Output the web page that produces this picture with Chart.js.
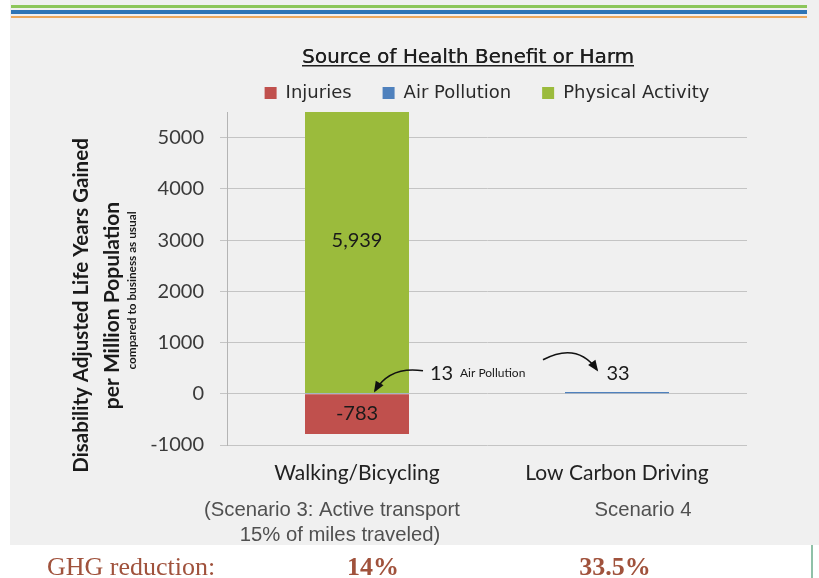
<!DOCTYPE html>
<html><head><meta charset="utf-8">
<script src="https://cdn.jsdelivr.net/npm/chart.js@4.4.1/dist/chart.umd.min.js"></script>
<style>
html,body{margin:0;padding:0;background:#fff;width:819px;height:578px;overflow:hidden;position:relative;}
#bg{position:absolute;left:10px;top:0;width:809px;height:545px;background:#f0f0f0;}
.stripe{position:absolute;left:11px;width:796px;}
#wrap{position:absolute;left:0;top:0;width:819px;height:545px;}
#ghg{position:absolute;top:0;left:0;width:819px;height:578px;font-family:"Liberation Serif","DejaVu Serif",serif;font-size:26px;color:#a0523c;pointer-events:none;}
#ghg span{position:absolute;top:554px;line-height:26px;white-space:nowrap;}
#vline{position:absolute;left:811px;top:545px;width:2px;height:33px;background:#8fc1a8;}
</style></head>
<body>
<div id="bg"></div>
<div class="stripe" style="top:5px;height:3px;background:#8cc65a"></div>
<div class="stripe" style="top:10px;height:4px;background:#2e75b6"></div>
<div class="stripe" style="top:16px;height:2px;background:#eba75c"></div>
<div id="wrap"><canvas id="c" width="819" height="545"></canvas></div>
<div id="ghg"></div>
<div id="vline"></div>
<script>
// ---- data ----
const categories = ['Walking/Bicycling', 'Low Carbon Driving'];
const subLabels = [['(Scenario 3: Active transport', '15% of miles traveled)'], ['Scenario 4']];
const injuries = [-783, 0];
const airPollution = [13, 33];
const physicalActivity = [5939, 0];
const yTicks = [-1000, 0, 1000, 2000, 3000, 4000, 5000];
const yMin = -1000, yMax = 5500;
const barLabels = ['5,939', '-783'];
const airLabels = ['13', '33'];
const airNote = 'Air Pollution';
const chartTitle = 'Source of Health Benefit or Harm';
const yTitleLines = ['Disability Adjusted Life Years Gained', 'per Million Population', 'compared to business as usual'];
const ghgTitle = 'GHG reduction:';
const ghgValues = ['14%', '33.5%'];

// ---- GHG row ----
const ghg = document.getElementById('ghg');
const t = document.createElement('span'); t.textContent = ghgTitle; t.style.left = '47px'; ghg.appendChild(t);
const ghgCenters = [373, 615];
ghgValues.forEach((v, i) => {
  const s = document.createElement('span'); s.textContent = v; s.style.fontWeight = 'bold';
  s.style.left = ghgCenters[i] + 'px'; s.style.transform = 'translateX(-50%)'; ghg.appendChild(s);
});

function arrow(ctx, x0, y0, cx, cy, x1, y1) {
  ctx.save();
  ctx.strokeStyle = '#111'; ctx.fillStyle = '#111'; ctx.lineWidth = 1.6;
  ctx.beginPath(); ctx.moveTo(x0, y0); ctx.quadraticCurveTo(cx, cy, x1, y1); ctx.stroke();
  const a = Math.atan2(y1 - cy, x1 - cx);
  const L = 9, W = 4.5;
  ctx.beginPath();
  ctx.moveTo(x1 + Math.cos(a) * 2, y1 + Math.sin(a) * 2);
  ctx.lineTo(x1 - Math.cos(a) * L + Math.sin(a) * W, y1 - Math.sin(a) * L - Math.cos(a) * W);
  ctx.lineTo(x1 - Math.cos(a) * L - Math.sin(a) * W, y1 - Math.sin(a) * L + Math.cos(a) * W);
  ctx.closePath(); ctx.fill();
  ctx.restore();
}

const extras = {
  id: 'extras',
  afterDraw(chart) {
    const ctx = chart.ctx, xs = chart.scales.x, ys = chart.scales.y;
    ctx.save();
    // title + underline
    ctx.font = '20px "DejaVu Sans"'; ctx.fillStyle = '#1e1e1e';
    ctx.textAlign = 'center'; ctx.textBaseline = 'alphabetic';
    const tx = 468, ty = 63;
    ctx.fillText(chartTitle, tx, ty);
    ctx.fillText(chartTitle, tx + 0.3, ty);
    const tw = ctx.measureText(chartTitle).width;
    ctx.fillRect(tx - tw / 2, ty + 2, tw, 1.5);
    // y axis title
    const midY = (ys.getPixelForValue(yMin) + ys.top) / 2 + 27;
    const fonts = ['bold 20.5px Lato', 'bold 21px Lato', 'bold 11.8px Lato'];
    const xsT = [81, 112, 132];
    const dy = [0, 0, -15];
    yTitleLines.forEach((line, i) => {
      ctx.save(); ctx.translate(xsT[i], midY + dy[i]); ctx.rotate(-Math.PI / 2);
      ctx.font = fonts[i]; ctx.fillStyle = '#1a1a1a'; ctx.textAlign = 'center'; ctx.textBaseline = 'middle';
      ctx.fillText(line, 0, 0); ctx.restore();
    });
    // bar value labels
    const x0 = xs.getPixelForValue(0), x1 = xs.getPixelForValue(1);
    const zero = ys.getPixelForValue(0);
    ctx.font = '20px Lato'; ctx.fillStyle = '#1a1a1a'; ctx.textAlign = 'center'; ctx.textBaseline = 'middle';
    ctx.fillText(barLabels[0], x0, ys.getPixelForValue(airPollution[0] + physicalActivity[0] / 2));
    ctx.fillText(barLabels[1], x0, ys.getPixelForValue(injuries[0] / 2));
    // air pollution annotations
    ctx.textAlign = 'left';
    ctx.fillText(airLabels[0], x0 + 73, zero - 20);
    ctx.font = '12px Lato';
    ctx.fillText(airNote, x0 + 103, zero - 21);
    ctx.font = '20px Lato'; ctx.textAlign = 'center';
    ctx.fillText(airLabels[1], x1 + 1, zero - 20);
    arrow(ctx, x0 + 66, zero - 23, x0 + 33, zero - 28, x0 + 18, zero - 3);
    arrow(ctx, x1 - 74, zero - 34, x1 - 40, zero - 52, x1 - 20, zero - 24);
    // sub labels
    ctx.font = '20.3px "Liberation Sans"'; ctx.fillStyle = '#505050'; ctx.textAlign = 'center';
    const offs = [[-25, -17], [26]];
    subLabels.forEach((lines, i) => {
      const cx = xs.getPixelForValue(i);
      lines.forEach((ln, j) => ctx.fillText(ln, cx + offs[i][j], 510 + j * 25));
    });
    ctx.restore();
  }
};

new Chart(document.getElementById('c'), {
  type: 'bar',
  data: {
    labels: categories,
    datasets: [
      { label: 'Injuries', data: injuries, backgroundColor: '#c0504d' },
      { label: 'Air Pollution', data: airPollution, backgroundColor: '#4f81bd' },
      { label: 'Physical Activity', data: physicalActivity, backgroundColor: '#9bbb3c' }
    ]
  },
  options: {
    responsive: false, animation: false,
    layout: { padding: { left: 127, right: 72, top: 53, bottom: 55 } },
    datasets: { bar: { categoryPercentage: 1, barPercentage: 0.4 } },
    plugins: {
      title: { display: false },
      tooltip: { enabled: false },
      legend: {
        display: true, position: 'top', fullSize: false,
        labels: { font: { family: 'DejaVu Sans', size: 18 }, color: '#2a2a2a', boxWidth: 12, boxHeight: 12, padding: 31 }
      }
    },
    scales: {
      x: {
        stacked: true,
        grid: { display: false, drawTicks: false },
        border: { display: false },
        ticks: { font: { family: 'Lato', size: 21 }, color: '#222', padding: 16 },
        afterFit(s) { s.height = 45; }
      },
      y: {
        stacked: true, min: yMin, max: yMax,
        afterBuildTicks(s) { s.ticks = yTicks.map(v => ({ value: v })); },
        grid: { color: '#c4c4c4', lineWidth: 1, tickLength: 7 },
        border: { color: '#b4b4b4' },
        ticks: { font: { family: 'Lato', size: 20 }, color: '#3a3a3a', padding: 16, callback: v => String(v) },
        afterFit(s) { s.width = 100; }
      }
    }
  },
  plugins: [extras]
});
</script>
</body></html>
